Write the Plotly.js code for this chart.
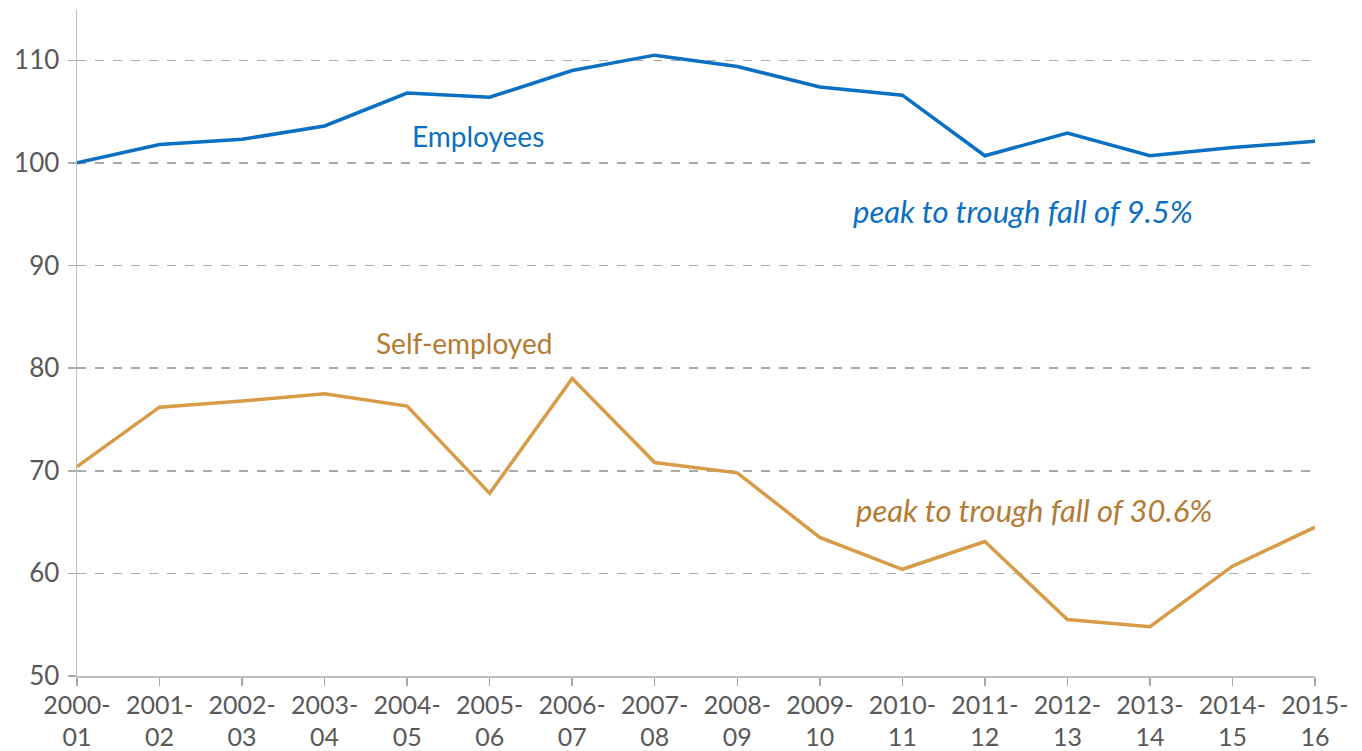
<!DOCTYPE html>
<html>
<head>
<meta charset="utf-8">
<script src="https://cdn.plot.ly/plotly-3.0.1.min.js"></script>
<style>html,body{margin:0;padding:0;background:#fff;}#chart{width:1362px;height:751px;}</style>
</head>
<body>
<div id="chart"></div>
<script>
const years = ["2000-<br>01","2001-<br>02","2002-<br>03","2003-<br>04","2004-<br>05","2005-<br>06","2006-<br>07","2007-<br>08","2008-<br>09","2009-<br>10","2010-<br>11","2011-<br>12","2012-<br>13","2013-<br>14","2014-<br>15","2015-<br>16"];
const employees = [100, 101.8, 102.3, 103.6, 106.8, 106.4, 109.0, 110.5, 109.4, 107.4, 106.6, 100.7, 102.9, 100.7, 101.5, 102.1];
const selfEmployed = [70.4, 76.2, 76.8, 77.5, 76.3, 67.8, 79.0, 70.8, 69.8, 63.5, 60.4, 63.1, 55.5, 54.8, 60.7, 64.5];
const yTicks = [50, 60, 70, 80, 90, 100, 110];

const blue = '#0b70c2';
const gold = '#d69c48';
const goldText = '#b37b33';
const fontFam = 'Lato, "Open Sans", sans-serif';

const traces = [
  {x: years, y: employees, type: 'scatter', mode: 'lines', line: {color: blue, width: 3.5}, name: 'Employees'},
  {x: years, y: selfEmployed, type: 'scatter', mode: 'lines', line: {color: gold, width: 3.5}, name: 'Self-employed'}
];

const layout = {
  width: 1362, height: 751,
  margin: {l: 77, r: 47, t: 10, b: 75},
  paper_bgcolor: '#fff', plot_bgcolor: '#fff',
  showlegend: false,
  font: {family: fontFam, color: '#595959', size: 25},
  xaxis: {
    type: 'category',
    range: [0, years.length - 1],
    showgrid: false,
    showline: true, linecolor: '#bfbfbf', linewidth: 1.5,
    ticks: 'outside', ticklen: 8, tickcolor: '#a6a6a6', tickwidth: 1.5,
    tickfont: {size: 25, color: '#595959'},
    ticklabelstandoff: -2,
    zeroline: false
  },
  yaxis: {
    range: [50, 114.9],
    tickvals: yTicks,
    showgrid: true, gridcolor: '#aaaaaa', griddash: 'dash', gridwidth: 1.5,
    showline: true, linecolor: '#bfbfbf', linewidth: 1.5,
    ticks: 'outside', ticklen: 8, tickcolor: '#aaaaaa', tickwidth: 1.5,
    tickfont: {size: 26, color: '#595959'},
    ticklabelstandoff: 3,
    zeroline: false
  },
  annotations: [
    {xref: 'paper', yref: 'paper', x: 0.324, y: 0.811, text: 'Employees', showarrow: false, xanchor: 'center', yanchor: 'middle', font: {color: blue, size: 28, family: fontFam}},
    {xref: 'paper', yref: 'paper', x: 0.625, y: 0.698, text: '<i>peak to trough fall of 9.5%</i>', showarrow: false, xanchor: 'left', yanchor: 'middle', font: {color: blue, size: 31, family: fontFam}},
    {xref: 'paper', yref: 'paper', x: 0.313, y: 0.5, text: 'Self-employed', showarrow: false, xanchor: 'center', yanchor: 'middle', font: {color: goldText, size: 28, family: fontFam}},
    {xref: 'paper', yref: 'paper', x: 0.628, y: 0.249, text: '<i>peak to trough fall of 30.6%</i>', showarrow: false, xanchor: 'left', yanchor: 'middle', font: {color: goldText, size: 31, family: fontFam}}
  ]
};

Plotly.newPlot('chart', traces, layout, {displayModeBar: false, staticPlot: true});
</script>
</body>
</html>
